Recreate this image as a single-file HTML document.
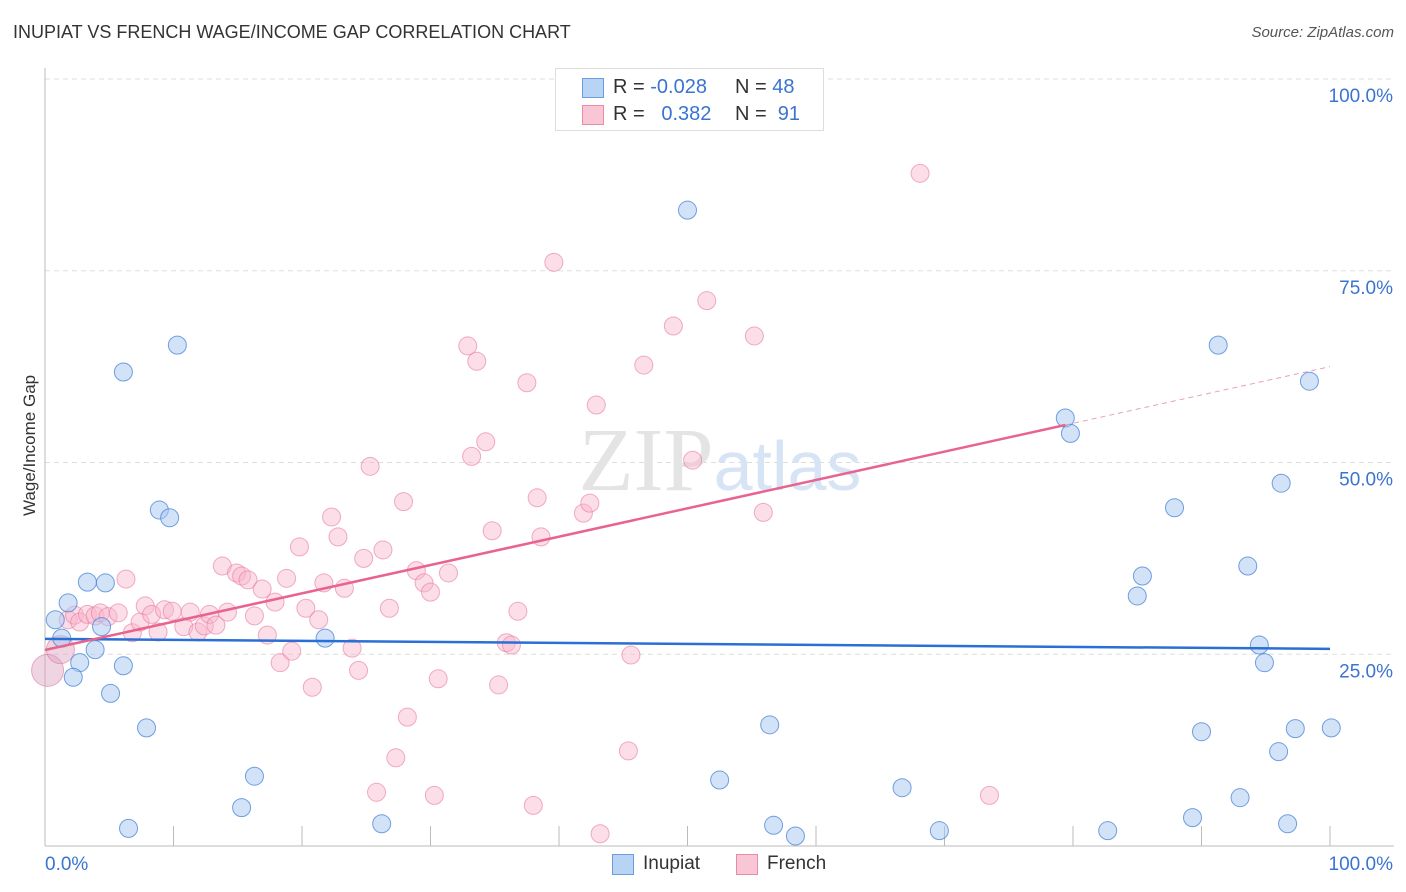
<!DOCTYPE html>
<html><head><meta charset="utf-8"><style>
body{margin:0;background:#fff;font-family:"Liberation Sans",sans-serif;}
#wrap{position:relative;width:1406px;height:892px;overflow:hidden;}
.t{position:absolute;white-space:nowrap;}
</style></head><body>
<div id="wrap">
<div class="t" style="left:13px;top:22px;font-size:18px;color:#333;">INUPIAT VS FRENCH WAGE/INCOME GAP CORRELATION CHART</div>
<div class="t" style="right:12px;top:24px;font-size:15px;color:#555;font-style:italic;">Source: ZipAtlas.com</div>
<div class="t" style="left:-30px;top:446px;font-size:17px;color:#333;transform:rotate(-90deg);transform-origin:center;width:120px;text-align:center;">Wage/Income Gap</div>
<svg id="svg" width="1406" height="892" style="position:absolute;left:0;top:0"></svg>
<div style="position:absolute;left:555px;top:68px;width:267px;height:61px;border:1px solid #ddd;background:#fff;font-size:20px;">
 <div style="position:absolute;left:26px;top:9px;width:20px;height:18px;background:#b8d4f5;border:1px solid #6a9ee0;"></div>
 <div class="t" style="left:57px;top:7px;color:#333;">R = <span style="color:#3a74d0">-0.028</span></div>
 <div class="t" style="left:179px;top:7px;color:#333;">N = <span style="color:#3a74d0">48</span></div>
 <div style="position:absolute;left:26px;top:36px;width:20px;height:18px;background:#f9c6d6;border:1px solid #e98aa8;"></div>
 <div class="t" style="left:57px;top:34px;color:#333;">R = <span style="color:#3a74d0">&nbsp;&nbsp;0.382</span></div>
 <div class="t" style="left:179px;top:34px;color:#333;">N = <span style="color:#3a74d0">&nbsp;91</span></div>
</div>
<div>
 <div style="position:absolute;left:612px;top:854px;width:20px;height:19px;background:#b8d4f5;border:1px solid #6a9ee0;"></div>
 <div class="t" style="left:643px;top:853px;font-size:19px;color:#333;">Inupiat</div>
 <div style="position:absolute;left:736px;top:854px;width:20px;height:19px;background:#f9c6d6;border:1px solid #e98aa8;"></div>
 <div class="t" style="left:767px;top:853px;font-size:19px;color:#333;">French</div>
</div>
</div>
<script>
const xTicks=[0,10,20,30,40,50,60,70,80,90,100];
const yTicks=[25,50,75,100];
const yTickLabels=["25.0%","50.0%","75.0%","100.0%"];
const blueX=[0.8,1.8,1.3,3.3,4.7,3.9,2.7,2.2,4.4,6.1,5.1,7.9,6.1,10.3,8.9,9.7,6.5,15.3,16.3,21.8,26.2,50.0,52.5,56.4,56.7,58.4,66.7,69.6,79.4,79.8,82.7,85.4,85.0,87.9,89.3,90.0,91.3,93.0,93.6,94.5,94.9,96.0,96.2,96.7,97.3,98.4,100.1];
const blueY=[29.5,31.7,27.1,34.4,34.3,25.6,23.9,22.0,28.6,23.5,19.9,15.4,61.8,65.3,43.8,42.8,2.3,5.0,9.1,27.1,2.9,82.9,8.6,15.8,2.7,1.3,7.6,2.0,55.8,53.8,2.0,35.2,32.6,44.1,3.7,14.9,65.3,6.3,36.5,26.2,23.9,12.3,47.3,2.9,15.3,60.6,15.4];
const pinkX=[1.8,2.3,2.7,3.3,3.9,4.3,4.9,5.7,6.3,6.8,7.4,7.8,8.3,8.8,9.3,9.9,10.8,11.3,11.9,12.4,12.8,13.3,13.8,14.2,14.9,15.3,15.8,16.3,16.9,17.3,17.9,18.3,18.8,19.2,19.8,20.3,20.8,21.3,21.7,22.3,22.8,23.3,23.9,24.4,24.8,25.3,25.8,26.3,26.8,27.3,27.9,28.2,28.9,29.5,30.0,30.3,30.6,31.4,32.9,33.2,33.6,34.3,34.8,35.3,35.9,36.3,36.8,37.5,38.0,38.3,38.6,39.6,41.9,42.4,42.9,43.2,45.4,45.6,46.6,48.9,50.4,51.5,55.2,55.9,68.1,73.5];
const pinkY=[29.5,30.1,29.2,30.2,30.0,30.4,29.9,30.4,34.8,27.8,29.2,31.3,30.2,27.9,30.8,30.6,28.6,30.5,27.9,28.7,30.2,28.8,36.5,30.5,35.6,35.2,34.7,30.0,33.5,27.5,31.8,23.9,34.9,25.4,39.0,31.0,20.7,29.5,34.3,42.9,40.3,33.6,25.8,22.9,37.5,49.5,7.0,38.6,31.0,11.5,44.9,16.8,35.9,34.3,33.1,6.6,21.8,35.6,65.2,50.8,63.2,52.7,41.1,21.0,26.5,26.2,30.6,60.4,5.3,45.4,40.3,76.1,43.4,44.7,57.5,1.6,12.4,24.9,62.7,67.8,50.3,71.1,66.5,43.5,87.7,6.6];
const bigX=[0.2,1.2];
const bigY=[22.9,25.6];
const blueTrend=[27.0,25.7];
const pinkTrend=[25.55,62.5];
const pinkSolidEnd=79.4;

const X0=45,X1=1330,Y0=846,Y100=79;
const sx=v=>X0+(X1-X0)*v/100;
const sy=v=>Y0-(Y0-Y100)*v/100;
const svg=document.getElementById('svg');
const NS='http://www.w3.org/2000/svg';
function mk(tag,attrs){const e=document.createElementNS(NS,tag);for(const k in attrs)e.setAttribute(k,attrs[k]);svg.appendChild(e);return e;}
// grid
yTicks.forEach((t,i)=>{
 const g=mk('line',{x1:45,x2:1394,y1:sy(t),y2:sy(t),stroke:'#ddd','stroke-dasharray':'5,4'});
 
 
 const l=mk('text',{x:1393,y:sy(t)+23,'text-anchor':'end','font-size':19,fill:'#3a74d0','font-family':'Liberation Sans, sans-serif'});
 l.textContent=yTickLabels[i];
 
 
});
const ax=mk('line',{x1:45,x2:1394,y1:846,y2:846,stroke:'#bbb'});


const ay=mk('line',{x1:45,x2:45,y1:68,y2:846,stroke:'#bbb'});


xTicks.forEach(t=>{
 const k=mk('line',{x1:sx(t),x2:sx(t),y1:826,y2:846,stroke:'#bbb'});
 
 
});
[[0,'0.0%','start',45],[100,'100.0%','end',1393]].forEach(a=>{
 const l=mk('text',{x:a[3],y:870,'text-anchor':a[2],'font-size':19,fill:'#3a74d0','font-family':'Liberation Sans, sans-serif'});
 l.textContent=a[1];
 
 
});
// watermark
const wm=mk('text',{x:720,y:490,'text-anchor':'middle','font-size':90,fill:'#e4e4e4','font-family':'Liberation Serif, serif'});
wm.innerHTML='ZIP<tspan fill="#d6e4f5" font-family="Liberation Sans, sans-serif" font-size="70">atlas</tspan>';


// points
bigX.forEach((v,i)=>{
 const c=mk('circle',{cx:sx(v),cy:sy(bigY[i]),r:i==0?16:14,fill:'rgba(220,160,190,0.45)',stroke:'rgba(220,120,160,0.6)'});
 
 
});
pinkX.forEach((v,i)=>{
 const c=mk('circle',{cx:sx(v),cy:sy(pinkY[i]),r:9,fill:'rgba(248,182,204,0.45)',stroke:'rgba(232,120,160,0.6)','stroke-width':1});
 
 
});
blueX.forEach((v,i)=>{
 const c=mk('circle',{cx:sx(v),cy:sy(blueY[i]),r:9,fill:'rgba(168,200,240,0.5)',stroke:'rgba(70,130,215,0.75)','stroke-width':1});
 
 
});
// trends
const bt=mk('line',{x1:sx(0),y1:sy(blueTrend[0]),x2:sx(100),y2:sy(blueTrend[1]),stroke:'#2a6fd6','stroke-width':2.5});


const pAt=x=>pinkTrend[0]+(pinkTrend[1]-pinkTrend[0])*x/100;
const pt=mk('line',{x1:sx(0),y1:sy(pAt(0)),x2:sx(pinkSolidEnd),y2:sy(pAt(pinkSolidEnd)),stroke:'#e8648e','stroke-width':2.5});


const pd=mk('line',{x1:sx(pinkSolidEnd),y1:sy(pAt(pinkSolidEnd)),x2:sx(100),y2:sy(pAt(100)),stroke:'#e8a0b8','stroke-width':1,'stroke-dasharray':'5,4'});


</script>
</body></html>
